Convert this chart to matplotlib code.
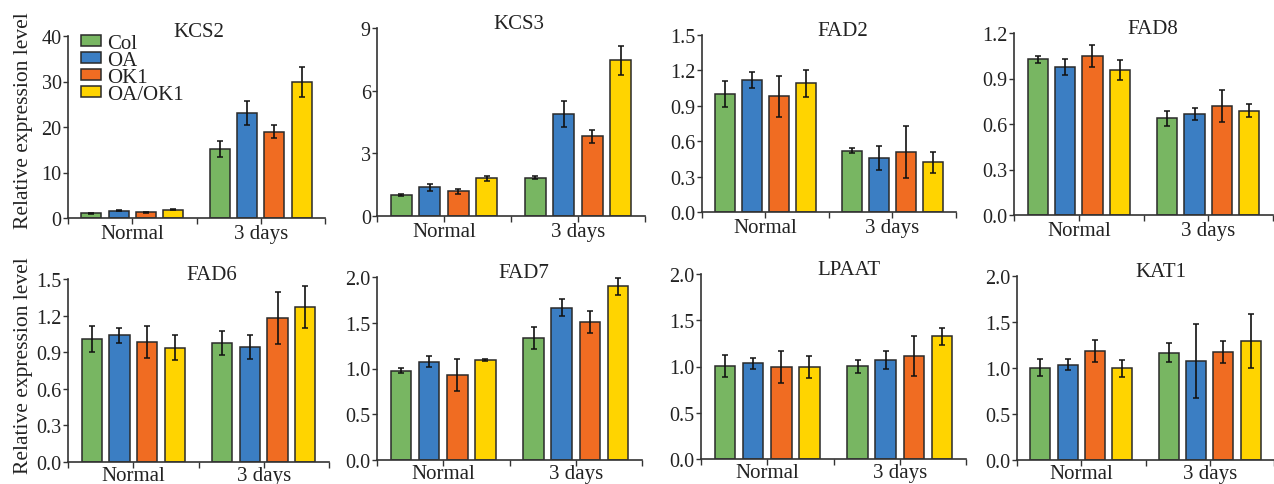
import matplotlib
matplotlib.use("Agg")
import matplotlib.pyplot as plt
import numpy as np

plt.rcParams['font.family'] = ['Liberation Serif', 'DejaVu Serif']

genotypes = ["Col", "OA", "OK1", "OA/OK1"]
colors = ["#78b662", "#3b7ec3", "#f06c22", "#ffd400"]
conditions = ["Normal", "3 days"]

# values per gene: rows = genotypes, cols = conditions
kcs2_mean = [[1.0, 15.2], [1.6, 23.0], [1.25, 19.0], [1.8, 29.9]]
kcs2_err = [[0.1, 1.8], [0.12, 2.65], [0.15, 1.4], [0.15, 3.2]]
kcs3_mean = [[1.0, 1.84], [1.37, 4.88], [1.18, 3.81], [1.8, 7.45]]
kcs3_err = [[0.03, 0.06], [0.15, 0.63], [0.12, 0.31], [0.13, 0.68]]
fad2_mean = [[1.0, 0.52], [1.12, 0.46], [0.98, 0.51], [1.09, 0.42]]
fad2_err = [[0.113, 0.02], [0.066, 0.10], [0.173, 0.22], [0.117, 0.09]]
fad8_mean = [[1.026, 0.638], [0.975, 0.665], [1.048, 0.718], [0.955, 0.689]]
fad8_err = [[0.024, 0.05], [0.055, 0.039], [0.074, 0.106], [0.067, 0.041]]
fad6_mean = [[1.008, 0.976], [1.038, 0.943], [0.984, 1.18], [0.938, 1.27]]
fad6_err = [[0.103, 0.097], [0.061, 0.096], [0.132, 0.213], [0.104, 0.169]]
fad7_mean = [[0.976, 1.335], [1.074, 1.664], [0.929, 1.512], [1.089, 1.899]]
fad7_err = [[0.026, 0.121], [0.063, 0.094], [0.174, 0.12], [0.01, 0.092]]
lpaat_mean = [[1.004, 1.004], [1.036, 1.072], [0.993, 1.115], [0.993, 1.326]]
lpaat_err = [[0.117, 0.07], [0.061, 0.10], [0.174, 0.22], [0.117, 0.093]]
kat1_mean = [[1.005, 1.168], [1.038, 1.077], [1.186, 1.178], [0.995, 1.29]]
kat1_err = [[0.088, 0.103], [0.065, 0.40], [0.123, 0.119], [0.094, 0.295]]

genes = ["KCS2", "KCS3", "FAD2", "FAD8", "FAD6", "FAD7", "LPAAT", "KAT1"]
means = [kcs2_mean, kcs3_mean, fad2_mean, fad8_mean, fad6_mean, fad7_mean, lpaat_mean, kat1_mean]
errs = [kcs2_err, kcs3_err, fad2_err, fad8_err, fad6_err, fad7_err, lpaat_err, kat1_err]
yticks = [
    [0, 10, 20, 30, 40],
    [0, 3, 6, 9],
    [0.0, 0.3, 0.6, 0.9, 1.2, 1.5],
    [0.0, 0.3, 0.6, 0.9, 1.2],
    [0.0, 0.3, 0.6, 0.9, 1.2, 1.5],
    [0.0, 0.5, 1.0, 1.5, 2.0],
    [0.0, 0.5, 1.0, 1.5, 2.0],
    [0.0, 0.5, 1.0, 1.5, 2.0],
]
ytick_fmt = ["{:.0f}", "{:.0f}", "{:.1f}", "{:.1f}", "{:.1f}", "{:.1f}", "{:.1f}", "{:.1f}"]

W, H = 1274, 485
fig = plt.figure(figsize=(W / 100, H / 100), dpi=100)

# layout: panel pixel boxes (left, right, top, bottom) and title x positions
boxes = [
    (68, 325, 37, 219), (377, 645, 29, 217), (702, 956, 36, 213), (1014, 1273, 34, 216),
    (68, 329, 280, 463), (377, 642, 278, 461), (701, 966, 275, 460), (1017, 1274, 277, 461),
]
title_pos = [0.51, 0.53, 0.555, 0.537, 0.55, 0.555, 0.56, 0.56]

text_color = "#222222"
spine_color = "#333333"
bw = 0.155
step = 0.212
x = np.arange(len(conditions))

for i, g in enumerate(genes):
    l, r, t, b = boxes[i]
    ax = fig.add_axes([l / W, 1 - b / H, (r - l) / W, (b - t) / H])
    m = np.array(means[i])
    e = np.array(errs[i])
    for k, gt in enumerate(genotypes):
        ax.bar(x + (k - 1.5) * step, m[k], bw, yerr=e[k], color=colors[k],
               edgecolor="#2a2a2a", linewidth=1.1, label=gt,
               error_kw=dict(ecolor="#111111", elinewidth=1.2, capsize=2.2, capthick=1.1),
               zorder=2)
    ax.set_xlim(-0.5, 1.5)
    ax.set_ylim(yticks[i][0], yticks[i][-1])
    ax.set_yticks(yticks[i])
    ax.set_yticklabels([ytick_fmt[i].format(v) for v in yticks[i]])
    ax.set_xticks([-0.5, 0, 0.5, 1, 1.5])
    ax.set_xticklabels(["", conditions[0], "", conditions[1], ""])
    for s in ["top", "right"]:
        ax.spines[s].set_visible(False)
    for s in ["left", "bottom"]:
        ax.spines[s].set_color(spine_color)
        ax.spines[s].set_linewidth(1.2)
    ax.tick_params(axis="y", direction="out", length=3.5, width=1.0, color=spine_color,
                   labelsize=14.5, labelcolor=text_color, pad=1)
    ax.tick_params(axis="x", direction="out", length=4, width=1.0, color=spine_color,
                   labelsize=15, labelcolor=text_color, pad=0.5 if i < 4 else -1.2)
    ax.patch.set_alpha(0)
    ax.text(title_pos[i], 1.0, g, transform=ax.transAxes, ha="center", va="baseline",
            fontsize=15, color=text_color)
    if i in (0, 4):
        ax.set_ylabel("Relative expression level", fontsize=15.5, color=text_color)
        ax.yaxis.set_label_coords(-0.136 if i == 0 else -0.134, 0.54 if i == 0 else 0.53)
    if i == 0:
        ax.legend(loc="upper left", bbox_to_anchor=(0.05, 1.01), frameon=False,
                  fontsize=15, borderpad=0, borderaxespad=0, handlelength=0.98,
                  handleheight=0.42, handletextpad=0.3, labelspacing=-0.1,
                  labelcolor=text_color)

fig.savefig("out.png", dpi=100)
